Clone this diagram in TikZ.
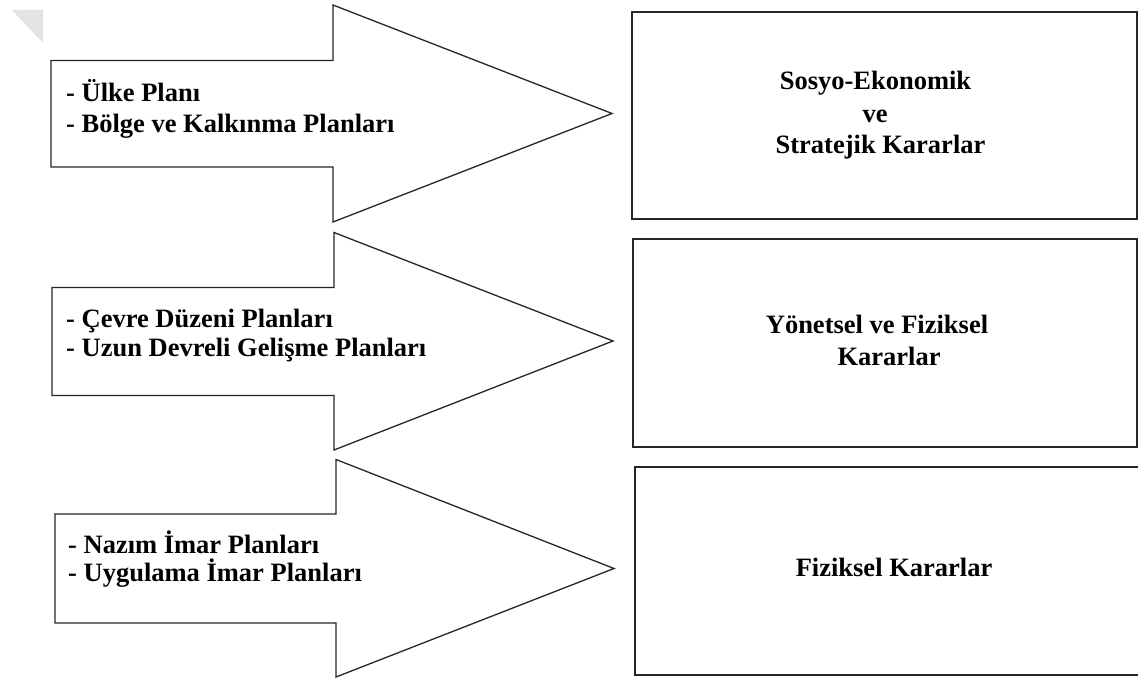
\documentclass[tikz,border=0pt]{standalone}
\usepackage{fontspec}
\setmainfont{Liberation Serif}
\begin{document}
\begin{tikzpicture}[x=1pt,y=-1pt,
  outline/.style={draw=black!85, line width=1.3pt, line join=miter, fill=white},
  box/.style={rectangle, draw=black!85, line width=1.3pt, inner sep=0pt},
  plantext/.style={anchor=base west, inner sep=0pt,
    font=\fontsize{26.5}{31}\selectfont\bfseries},
  decisiontext/.style={anchor=base, inner sep=0pt,
    font=\fontsize{26.5}{32}\selectfont\bfseries}]

% canvas
\fill[white] (0,0) rectangle (1138,679);
\useasboundingbox (0,0) rectangle (1138,679);

% corner mark
\fill[gray!22] (12,10) -- (43,10) -- (43,43) -- cycle;

% block arrows (plan levels)
\draw[outline] (51,60.5) -- (333,60.5) -- (333,5) -- (612,113.5)
  -- (333,222) -- (333,167) -- (51,167) -- cycle;
\draw[outline] (52,287.5) -- (334,287.5) -- (334,232.5) -- (613,341)
  -- (334,450) -- (334,395.5) -- (52,395.5) -- cycle;
\draw[outline] (55,514) -- (336,514) -- (336,459.5) -- (614,568.5)
  -- (336,677) -- (336,623) -- (55,623) -- cycle;

\node[plantext] (p1a) at (66,101.5) {- Ülke Planı};
\node[plantext] (p1b) at (66,133) {- Bölge ve Kalkınma Planları};
\node[plantext] (p2a) at (66,327) {- Çevre Düzeni Planları};
\node[plantext] (p2b) at (66,356) {- Uzun Devreli Gelişme Planları};
\node[plantext] (p3a) at (68,553) {- Nazım İmar Planları};
\node[plantext] (p3b) at (68,581) {- Uygulama İmar Planları};

% decision boxes (the lowest one runs past the right edge)
\node[box, minimum width=505pt, minimum height=207pt] (b1) at (884.5,115.5) {};
\node[box, minimum width=504pt, minimum height=208pt] (b2) at (885,343) {};
\node[box, minimum width=506pt, minimum height=208pt] (b3) at (888,571) {};

\node[decisiontext] (d1a) at (875.5,90) {Sosyo-Ekonomik};
\node[decisiontext] (d1b) at (875,123) {ve};
\node[decisiontext] (d1c) at (880.5,154) {Stratejik Kararlar};
\node[decisiontext] (d2a) at (877,333) {Yönetsel ve Fiziksel};
\node[decisiontext] (d2b) at (889,365) {Kararlar};
\node[decisiontext] (d3a) at (894,576) {Fiziksel Kararlar};
\end{tikzpicture}
\end{document}
